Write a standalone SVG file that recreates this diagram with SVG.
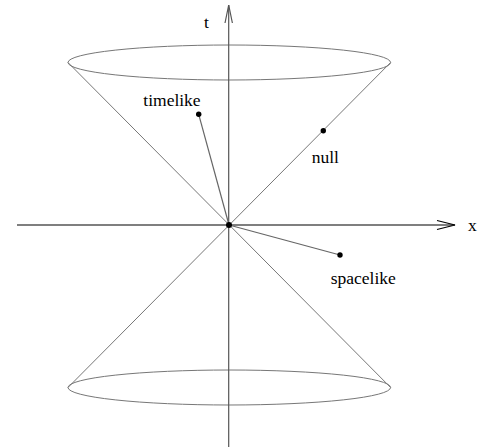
<svg xmlns="http://www.w3.org/2000/svg" width="494" height="447" viewBox="0 0 494 447">
<style>
.cone{fill:none;stroke:#777;stroke-width:1}
.vec{stroke:#666;stroke-width:1.2}
.axis{fill:none;stroke-width:1.2}
.dot{fill:#000}
text{font-family:"Liberation Serif","Times New Roman",serif;font-size:17.5px;fill:#000}
</style>
<rect width="494" height="447" fill="#fff"/>
<g id="cone">
<ellipse class="cone" cx="229.3" cy="62.5" rx="161.3" ry="17.5"/>
<ellipse class="cone" cx="229.3" cy="387.5" rx="161.3" ry="17.5"/>
<line class="cone" x1="68" y1="62.5" x2="390.6" y2="387.5"/>
<line class="cone" x1="390.6" y1="62.5" x2="68" y2="387.5"/>
</g>
<g id="axes">
<g id="t-axis">
<line class="axis" stroke="#555" x1="228.7" y1="5" x2="228.7" y2="447"/>
<polyline class="axis" stroke="#555" points="225,23 228.7,5 232.4,23"/>
<text x="204" y="28">t</text>
</g>
<g id="x-axis">
<line class="axis" stroke="#000" x1="17" y1="225" x2="455" y2="225"/>
<polyline class="axis" stroke="#000" points="437,220.5 455,225 437,229.5"/>
<text x="468" y="231">x</text>
</g>
</g>
<g id="connectors">
<line class="vec" x1="229" y1="225" x2="198.7" y2="114.3"/>
<line class="vec" x1="229" y1="225" x2="340" y2="255"/>
</g>
<g id="origin"><circle class="dot" cx="229" cy="225" r="3"/></g>
<g id="timelike"><circle class="dot" cx="198.7" cy="114.3" r="2.7"/><text x="143.3" y="105.7">timelike</text></g>
<g id="null"><circle class="dot" cx="323.3" cy="130.7" r="2.7"/><text x="311.7" y="163.3">null</text></g>
<g id="spacelike"><circle class="dot" cx="340" cy="255" r="2.7"/><text x="330.7" y="283.5">spacelike</text></g>
</svg>
